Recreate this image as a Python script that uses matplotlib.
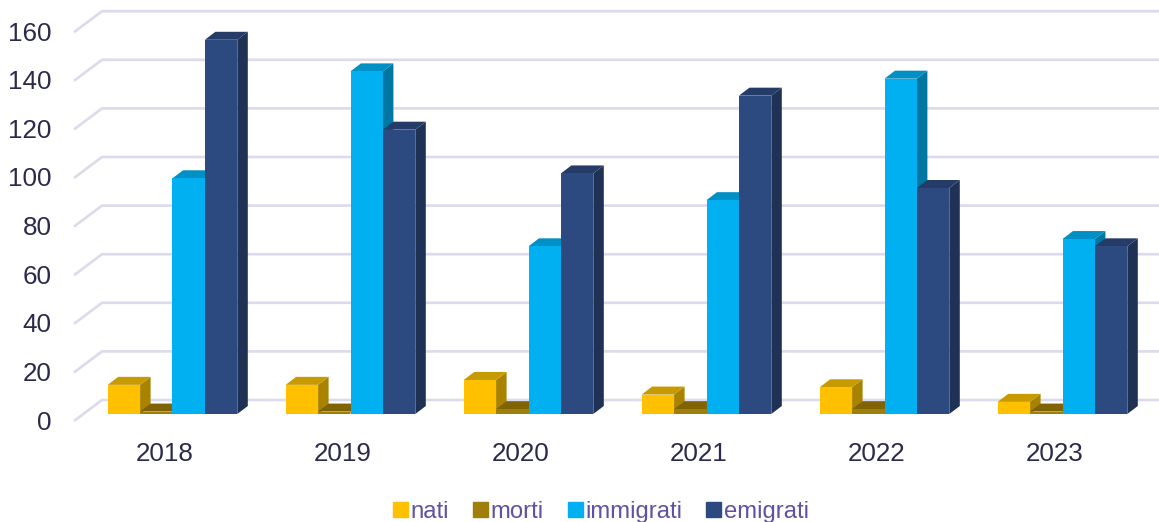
import matplotlib
matplotlib.use('Agg')
import matplotlib.pyplot as plt
from matplotlib.patches import Patch
import numpy as np

plt.rcParams['font.family'] = ['Liberation Sans', 'DejaVu Sans']

years = ['2018', '2019', '2020', '2021', '2022', '2023']
nati = [12, 12, 14, 8, 11, 5]
morti = [1, 1, 2, 2, 2, 1]
immigrati = [97, 141, 69, 88, 138, 72]
emigrati = [154, 117, 99, 131, 93, 69]
y_ticks = [0, 20, 40, 60, 80, 100, 120, 140, 160]

series = [nati, morti, immigrati, emigrati]
names = ['nati', 'morti', 'immigrati', 'emigrati']
# front, top, side
colors = [('#FFC000', '#C69A00', '#A98300'),
          ('#A07E0A', '#7F6304', '#6E5503'),
          ('#00B0F0', '#0090C6', '#0076A3'),
          ('#2D4A80', '#253C69', '#1F3155')]

# scale: pixels per unit of each axis
px_x = 178.0
px_y = 2.43
W, H = 1159, 522
x0_px, y0_px = 172.5, 414.0

fig = plt.figure(figsize=(W / 100, H / 100), dpi=100)
ax = fig.add_axes([0, 0, 1, 1])
ax.set_xlim(-x0_px / px_x, (W - x0_px) / px_x)
ax.set_ylim(-(H - y0_px) / px_y, y0_px / px_y)

bar_w = 32.4 / px_x
dx = 10.5 / px_x
dy = 8.0 / px_y

# walls: a line across the back and a short slanted one to the front
back_dx_left = -70.5 / px_x
back_dy = 14.0 / px_y
front_dx_left = -98.5 / px_x
front_dy = -7.0 / px_y
for t in y_ticks:
    ax.plot([front_dx_left, back_dx_left, ax.get_xlim()[1]],
            [t + front_dy, t + back_dy, t + back_dy],
            color='#DCDAEC', lw=1.9, zorder=1, solid_capstyle='butt')

z = 2
for g in range(len(years)):
    for s in range(4):
        v = series[s][g]
        left = g + (s - 2) * bar_w
        right = left + bar_w
        front, top, side = colors[s]
        ax.fill([right, right + dx, right + dx, right],
                [0, dy, v + dy, v], color=side, lw=0, zorder=z)
        ax.fill([left, left + dx, right + dx, right],
                [v, v + dy, v + dy, v], color=top, lw=0, zorder=z)
        ax.bar(left, v, width=bar_w, align='edge', color=front, lw=0, zorder=z + 1)
        z += 2

ax.spines['top'].set_visible(False)
ax.spines['right'].set_visible(False)
ax.spines['left'].set_position(('data', -121.0 / px_x))
ax.spines['bottom'].set_position(('data', -28.0 / px_y))
ax.spines['left'].set_visible(False)
ax.spines['bottom'].set_visible(False)

ax.set_xticks(np.arange(len(years)) - 8.0 / px_x)
ax.set_xticklabels(years)
ax.set_yticks([t - 6.0 / px_y for t in y_ticks])
ax.set_yticklabels(y_ticks)
ax.tick_params(axis='both', length=0, pad=0, labelsize=18.7, labelcolor='#2B2A4C')

handles = [Patch(color=colors[i][0], label=names[i]) for i in range(4)]
leg = ax.legend(handles=handles, ncol=4, loc='lower center', frameon=False,
                bbox_to_anchor=(0.5185, -0.043), fontsize=17.2, handlelength=0.62,
                handleheight=0.62, handletextpad=0.12, columnspacing=1.0,
                labelcolor='#5F51A3')

fig.savefig('out.png', dpi=100)
